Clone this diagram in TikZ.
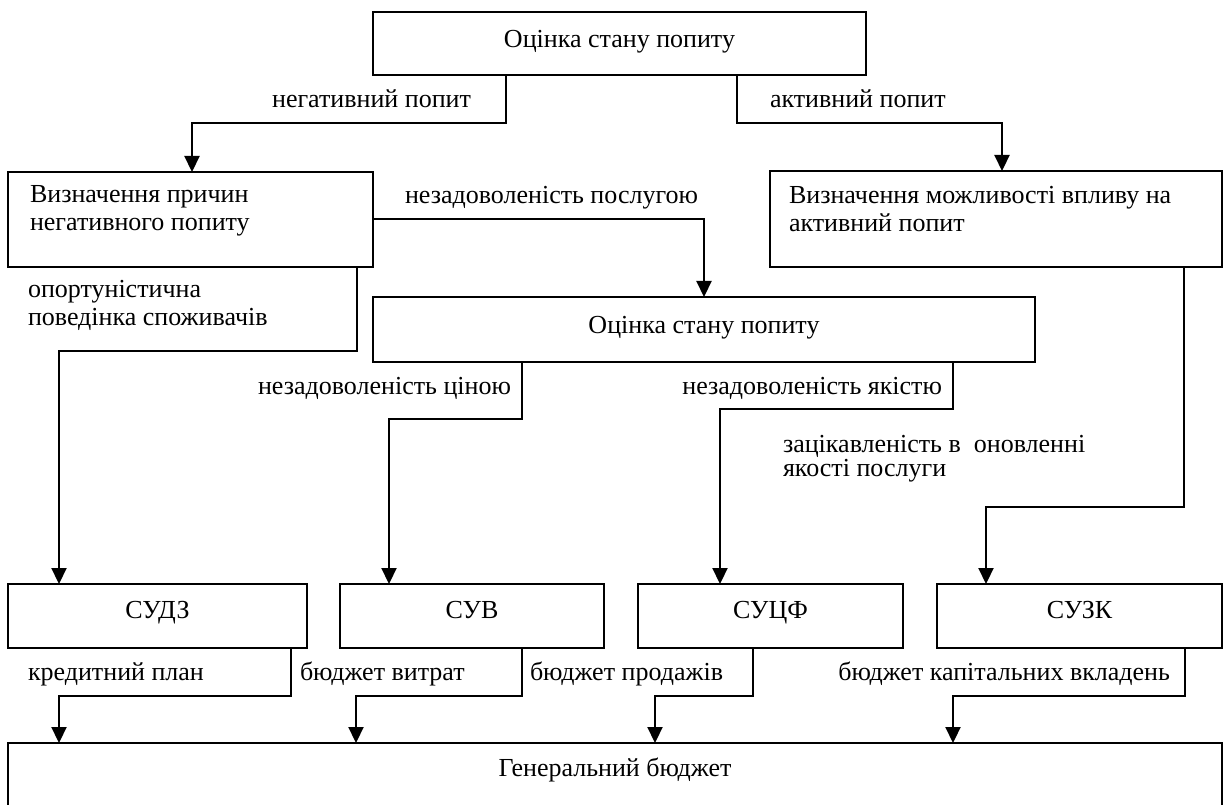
\documentclass[tikz,border=0pt]{standalone}
\usepackage{fontspec}
\setmainfont{Liberation Serif}
\usetikzlibrary{arrows.meta}
\begin{document}
\begin{tikzpicture}[x=1pt,y=-1pt,
  font=\fontsize{26}{28}\selectfont,
  box/.style={draw, line width=1.5pt, inner sep=0pt, outer sep=0pt},
  conn/.style={line width=2.2pt, line join=miter},
  arr/.style={conn, -{Triangle[length=16pt,width=15pt]}},
  txt/.style={inner sep=0pt, outer sep=0pt},
  boxlabel/.style={anchor=base, inner sep=0pt, yshift=#1},
]
\useasboundingbox (0,0) rectangle (1224,805);
\clip (0,0) rectangle (1224,805);

% boxes
\node[box, minimum width=493pt, minimum height=63pt,
      label={[boxlabel=-36pt]north:Оцінка стану попиту}] (top) at (619.5,43.5) {};
\node[box, minimum width=365pt, minimum height=95pt] (negL) at (190.5,219.5) {};
\node[box, minimum width=452pt, minimum height=96pt] (posR) at (996,219) {};
\node[box, minimum width=662pt, minimum height=65pt,
      label={[boxlabel=-36pt]north:Оцінка стану попиту}] (mid) at (704,329.5) {};
\node[box, minimum width=299pt, minimum height=64pt,
      label={[boxlabel=-34pt]north:СУДЗ}] (s1) at (157.5,616) {};
\node[box, minimum width=264pt, minimum height=64pt,
      label={[boxlabel=-34pt]north:СУВ}] (s2) at (472,616) {};
\node[box, minimum width=265pt, minimum height=64pt,
      label={[boxlabel=-34pt]north:СУЦФ}] (s3) at (770.5,616) {};
\node[box, minimum width=285pt, minimum height=64pt,
      label={[boxlabel=-34pt]north:СУЗК}] (s4) at (1079.5,616) {};
\node[box, minimum width=1214pt, minimum height=157pt,
      label={[boxlabel=-33pt]north:Генеральний бюджет}] (gen) at (615,821.5) {};

% texts inside the upper boxes (anchored at the baseline of the last line)
\node[txt, anchor=base west, align=left] (negT) at (30,231)
  {Визначення причин\\негативного попиту};
\node[txt, anchor=base west, align=left] (posT) at (789,232)
  {Визначення можливості впливу на\\активний попит};

% bend points of the connectors
\coordinate (k1) at (506,123);  \coordinate (k2) at (192,123);
\coordinate (k3) at (737,123);  \coordinate (k4) at (1002,123);
\coordinate (k5) at (704,219);
\coordinate (k6) at (357,351);  \coordinate (k7) at (59,351);
\coordinate (k8) at (522,419);  \coordinate (k9) at (389,419);
\coordinate (k10) at (953,409); \coordinate (k11) at (720,409);
\coordinate (k12) at (1184,507);\coordinate (k13) at (986,507);
\coordinate (b1) at (291,696);  \coordinate (b2) at (59,696);
\coordinate (b3) at (522,696);  \coordinate (b4) at (356,696);
\coordinate (b5) at (753,696);  \coordinate (b6) at (655,696);
\coordinate (b7) at (1185,696); \coordinate (b8) at (953,696);

% connectors
\draw[arr] (top.south -| k1) -- (k1) -- (k2) -- (k2 |- negL.north);
\draw[arr] (top.south -| k3) -- (k3) -- (k4) -- (k4 |- posR.north);
\draw[arr] (k5 -| negL.east) -- (k5) -- (k5 |- mid.north);
\draw[arr] (negL.south -| k6) -- (k6) -- (k7) -- (k7 |- s1.north);
\draw[arr] (mid.south -| k8) -- (k8) -- (k9) -- (k9 |- s2.north);
\draw[arr] (mid.south -| k10) -- (k10) -- (k11) -- (k11 |- s3.north);
\draw[arr] (posR.south -| k12) -- (k12) -- (k13) -- (k13 |- s4.north);
\draw[arr] (s1.south -| b1) -- (b1) -- (b2) -- (b2 |- gen.north);
\draw[arr] (s2.south -| b3) -- (b3) -- (b4) -- (b4 |- gen.north);
\draw[arr] (s3.south -| b5) -- (b5) -- (b6) -- (b6 |- gen.north);
\draw[arr] (s4.south -| b7) -- (b7) -- (b8) -- (b8 |- gen.north);

% connector labels
\node[txt, anchor=base east] (l1) at (471,108) {негативний попит};
\node[txt, anchor=base west] (l2) at (770,108) {активний попит};
\node[txt, anchor=base east] (l3) at (698,204) {незадоволеність послугою};
\node[txt, anchor=base west, align=left] (l4) at (28,325)
  {опортуністична\\поведінка споживачів};
\node[txt, anchor=base east] (l5) at (511,394) {незадоволеність ціною};
\node[txt, anchor=base east] (l6) at (942,394) {незадоволеність якістю};
\node[txt, anchor=base west, align=left,
      font=\fontsize{26}{24}\selectfont] (l7) at (783,476)
  {зацікавленість в\ \ оновленні\\якості послуги};
\node[txt, anchor=base west] (l8) at (28,680) {кредитний план};
\node[txt, anchor=base west] (l9) at (300,680) {бюджет витрат};
\node[txt, anchor=base west] (l10) at (530,680) {бюджет продажів};
\node[txt, anchor=base east] (l11) at (1170,680) {бюджет капітальних вкладень};
\end{tikzpicture}
\end{document}
